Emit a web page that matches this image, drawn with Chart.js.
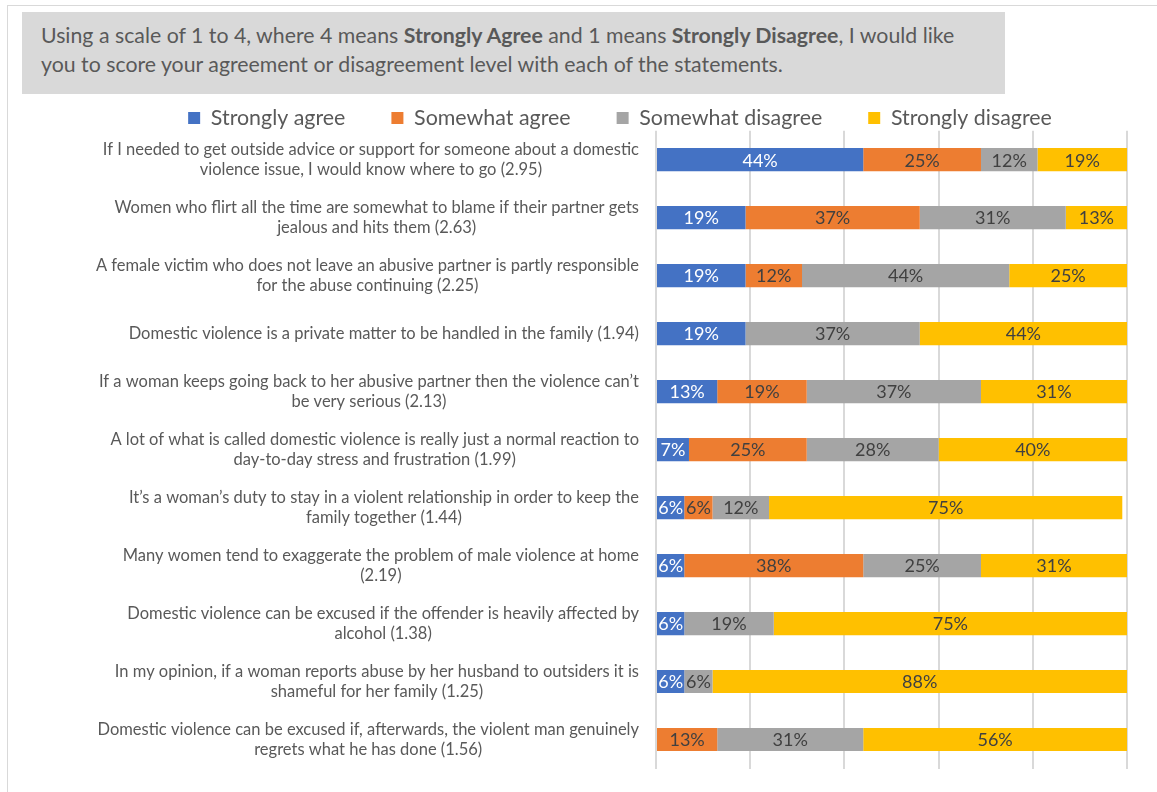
<!DOCTYPE html>
<html>
<head>
<meta charset="utf-8">
<script src="https://cdn.jsdelivr.net/npm/chart.js@4/dist/chart.umd.min.js"></script>
<style>
  html, body { margin: 0; padding: 0; background: #fff; }
  body { width: 1157px; height: 792px; position: relative; overflow: hidden; font-family: Lato, "Open Sans", sans-serif; }
  .frame { position: absolute; left: 7px; top: 5px; width: 1200px; height: 840px; border: 1.5px solid #d9d9d9; box-sizing: border-box; }
  .question { position: absolute; left: 22px; top: 12px; width: 983px; height: 82px; background: #d9d9d9; box-sizing: border-box;
              padding: 9px 0 0 19px; color: #595959; font-size: 21.3px; line-height: 29px; white-space: nowrap; }
  .question b { font-weight: 700; }
  canvas { position: absolute; left: 0; top: 0; }
</style>
</head>
<body>
<div class="frame"></div>
<div class="question">Using a scale of 1 to 4, where 4 means <b>Strongly Agree</b> and 1 means <b>Strongly Disagree</b>, I would like<br>you to score your agreement or disagreement level with each of the statements.</div>
<canvas id="chart" width="1157" height="792"></canvas>
<script>
// Statements (wrapped into lines) with their mean score
const statements = [
  ["If I needed to get outside advice or support for someone about a domestic", "violence issue, I would know where to go (2.95)"],
  ["Women who flirt all the time are somewhat to blame if their partner gets", "jealous and hits them (2.63)"],
  ["A female victim who does not leave an abusive partner is partly responsible", "for the abuse continuing (2.25)"],
  ["Domestic violence is a private matter to be handled in the family (1.94)"],
  ["If a woman keeps going back to her abusive partner then the violence can\u2019t", "be very serious (2.13)"],
  ["A lot of what is called domestic violence is really just a normal reaction to", "day-to-day stress and frustration (1.99)"],
  ["It\u2019s a woman\u2019s duty to stay in a violent relationship in order to keep the", "family together (1.44)"],
  ["Many women tend to exaggerate the problem of male violence at home", "(2.19)"],
  ["Domestic violence can be excused if the offender is heavily affected by", "alcohol (1.38)"],
  ["In my opinion, if a woman reports abuse by her husband to outsiders it is", "shameful for her family (1.25)"],
  ["Domestic violence can be excused if, afterwards, the violent man genuinely", "regrets what he has done (1.56)"]
];

// Share of respondents (%) per answer
const stronglyAgree    = [44, 19, 19, 19, 13,  7,  6,  6,  6,  6, null];
const somewhatAgree    = [25, 37, 12, null, 19, 25,  6, 38, null, null, 13];
const somewhatDisagree = [12, 31, 44, 37, 37, 28, 12, 25, 19,  6, 31];
const stronglyDisagree = [19, 13, 25, 44, 31, 40, 75, 31, 75, 88, 56];

const seriesNames  = ["Strongly agree", "Somewhat agree", "Somewhat disagree", "Strongly disagree"];
const seriesColors = ["#4472C4", "#ED7D31", "#A5A5A5", "#FFC000"];
const seriesValues = [stronglyAgree, somewhatAgree, somewhatDisagree, stronglyDisagree];
const labelColors  = ["#ffffff", "#404040", "#404040", "#404040"];

const FONT = "Lato, 'Open Sans', sans-serif";
const TEXT_GREY = "#595959";

// Multi-line statement labels: each block right-aligned, its lines centred within the block
const statementLabels = {
  id: "statementLabels",
  afterDraw(chart) {
    const { ctx, scales: { y }, chartArea } = chart;
    const right = chartArea.left - 17;
    const lineH = 20;
    ctx.save();
    ctx.font = "16.5px " + FONT;
    ctx.fillStyle = TEXT_GREY;
    ctx.textAlign = "center";
    ctx.textBaseline = "middle";
    statements.forEach((lines, i) => {
      const cy = y.getPixelForValue(i);
      const w = Math.max(...lines.map(l => ctx.measureText(l).width));
      const cx = right - w / 2;
      const top = cy - (lines.length - 1) * lineH / 2;
      lines.forEach((l, k) => ctx.fillText(l, cx, top + k * lineH));
    });
    ctx.restore();
  }
};

// Percentage labels centred in each segment
const segmentLabels = {
  id: "segmentLabels",
  afterDatasetsDraw(chart) {
    const { ctx } = chart;
    ctx.save();
    ctx.font = "18px " + FONT;
    ctx.textAlign = "center";
    ctx.textBaseline = "middle";
    chart.data.datasets.forEach((ds, di) => {
      const meta = chart.getDatasetMeta(di);
      meta.data.forEach((bar, i) => {
        const v = ds.data[i];
        if (v === null || v === undefined) return;
        const p = bar.getCenterPoint();
        ctx.fillStyle = labelColors[di];
        ctx.fillText(v + "%", p.x, p.y + 1);
      });
    });
    ctx.restore();
  }
};

// Tighten the legend band so the plot starts right under it
const compactLegend = {
  id: "compactLegend",
  beforeUpdate(chart) {
    const lg = chart.legend;
    if (lg && !lg._compact) {
      const fit = lg.fit.bind(lg);
      lg.fit = function () { fit(); this.height -= 8; };
      lg._compact = true;
    }
  }
};

new Chart(document.getElementById("chart"), {
  type: "bar",
  data: {
    labels: statements,
    datasets: seriesNames.map((name, i) => ({
      label: name,
      data: seriesValues[i],
      backgroundColor: seriesColors[i],
      borderWidth: 0,
      categoryPercentage: 1,
      barPercentage: 0.4
    }))
  },
  options: {
    indexAxis: "y",
    responsive: false,
    animation: false,
    devicePixelRatio: 1,
    layout: { padding: { left: 113, right: 30, top: 61.3, bottom: 23.5 } },
    plugins: {
      legend: {
        position: "top",
        labels: {
          boxWidth: 12,
          boxHeight: 12,
          padding: 46,
          color: TEXT_GREY,
          font: { family: FONT, size: 21.4 }
        }
      },
      tooltip: { enabled: false }
    },
    scales: {
      x: {
        stacked: true,
        min: 0,
        max: 100,
        ticks: { display: false, stepSize: 20 },
        grid: { color: "#d9d9d9", lineWidth: 2, drawTicks: false },
        border: { display: false }
      },
      y: {
        stacked: true,
        ticks: { display: false },
        grid: { display: false },
        border: { display: false },
        afterFit(scale) { scale.width = 543; }
      }
    }
  },
  plugins: [compactLegend, statementLabels, segmentLabels]
});
</script>
</body>
</html>
